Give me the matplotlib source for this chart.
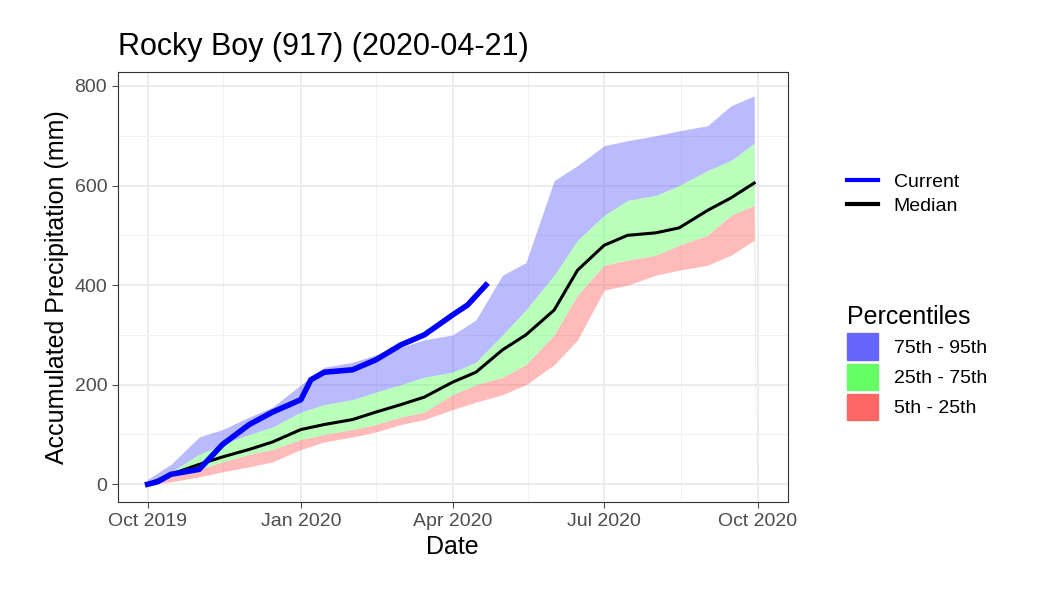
import pandas as pd
import matplotlib.pyplot as plt
import matplotlib.dates as mdates
from matplotlib.patches import Patch
from matplotlib.lines import Line2D

plt.rcParams['font.family'] = ['Liberation Sans', 'DejaVu Sans']

band_dates = pd.to_datetime([
    '2019-10-01', '2019-10-15', '2019-11-01', '2019-11-15', '2019-12-01', '2019-12-15',
    '2020-01-01', '2020-01-15', '2020-02-01', '2020-02-15', '2020-03-01', '2020-03-15',
    '2020-04-01', '2020-04-15', '2020-05-01', '2020-05-15', '2020-06-01', '2020-06-15',
    '2020-07-01', '2020-07-15', '2020-08-01', '2020-08-15', '2020-09-01', '2020-09-15',
    '2020-09-29', '2020-09-30'])
p95 = [10, 40, 95, 110, 135, 155, 200, 235, 245, 260, 275, 290, 300, 330, 420, 445,
       610, 640, 680, 690, 700, 710, 720, 760, 780, 0]
p75 = [5, 25, 60, 80, 100, 115, 145, 160, 170, 185, 200, 215, 225, 245, 300, 350,
       420, 490, 540, 570, 580, 600, 630, 650, 685, 0]
median = [0, 20, 40, 55, 70, 85, 110, 120, 130, 145, 160, 175, 205, 225, 270, 300,
          350, 430, 480, 500, 505, 515, 550, 575, 605, 0]
p25 = [0, 15, 30, 45, 60, 70, 90, 100, 110, 120, 135, 145, 180, 200, 215, 240,
       300, 380, 440, 450, 460, 480, 500, 540, 560, 0]
p5 = [0, 5, 15, 25, 35, 45, 70, 85, 95, 105, 120, 130, 150, 165, 180, 200,
      240, 290, 390, 400, 420, 430, 440, 460, 490, 0]

cur_dates = pd.to_datetime([
    '2019-10-01', '2019-10-07', '2019-10-15', '2019-11-01', '2019-11-15', '2019-12-01',
    '2019-12-15', '2020-01-01', '2020-01-07', '2020-01-15', '2020-02-01', '2020-02-15',
    '2020-03-01', '2020-03-15', '2020-04-01', '2020-04-10', '2020-04-21'])
current = [0, 5, 20, 30, 80, 120, 145, 170, 210, 225, 230, 250, 280, 300, 340, 360, 400]

fig = plt.figure(figsize=(10.5, 6), dpi=100)
ax = fig.add_axes([0.112, 0.163, 0.638, 0.717])

ax.fill_between(band_dates, p75, p95, color='#6666ff', alpha=0.45, lw=0)
ax.fill_between(band_dates, p25, p75, color='#66ff66', alpha=0.45, lw=0)
ax.fill_between(band_dates, p5, p25, color='#ff6666', alpha=0.45, lw=0)
ax.plot(band_dates[:-1], median[:-1], color='black', lw=2.2)
ax.plot(cur_dates, current, color='blue', lw=4)

ax.set_xlim(pd.Timestamp('2019-09-13'), pd.Timestamp('2020-10-19'))
ax.set_ylim(-36, 828)
ax.set_yticks([0, 200, 400, 600, 800])
ax.set_yticks([100, 300, 500, 700], minor=True)
ticks = pd.to_datetime(['2019-10-01', '2020-01-01', '2020-04-01', '2020-07-01', '2020-10-01'])
ax.set_xticks(ticks)
ax.set_xticks(pd.to_datetime(['2019-11-15', '2020-02-15', '2020-05-16', '2020-08-16']), minor=True)
ax.xaxis.set_major_formatter(mdates.DateFormatter('%b %Y'))
ax.grid(which='major', color='#ebebeb', lw=1.3)
ax.grid(which='minor', color='#f2f2f2', lw=0.7)
ax.set_axisbelow(True)
for s in ax.spines.values():
    s.set_color('#333333')
    s.set_linewidth(0.8)
ax.tick_params(labelsize=14, colors='#4d4d4d', length=4, which='major')
ax.tick_params(which='minor', length=0)
ax.set_xlabel('Date', fontsize=18)
ax.set_ylabel('Accumulated Precipitation (mm)', fontsize=18)
ax.set_title('Rocky Boy (917) (2020-04-21)', fontsize=22, loc='left', pad=12)

lines = [Line2D([], [], color='blue', lw=3), Line2D([], [], color='black', lw=3)]
fig.legend(lines, ['Current', 'Median'], loc='upper left', bbox_to_anchor=(0.79, 0.74),
           frameon=False, fontsize=14, handlelength=1.6, labelspacing=0.3)
patches = [Patch(color='#6666ff'), Patch(color='#66ff66'), Patch(color='#ff6666')]
fig.legend(patches, ['75th - 95th', '25th - 75th', '5th - 25th'], loc='upper left',
           bbox_to_anchor=(0.79, 0.52), frameon=False, fontsize=14, title='Percentiles',
           title_fontsize=18, handlelength=1.6, handleheight=1.7, labelspacing=0.2,
           alignment='left')

fig.savefig('out.png', dpi=100)
